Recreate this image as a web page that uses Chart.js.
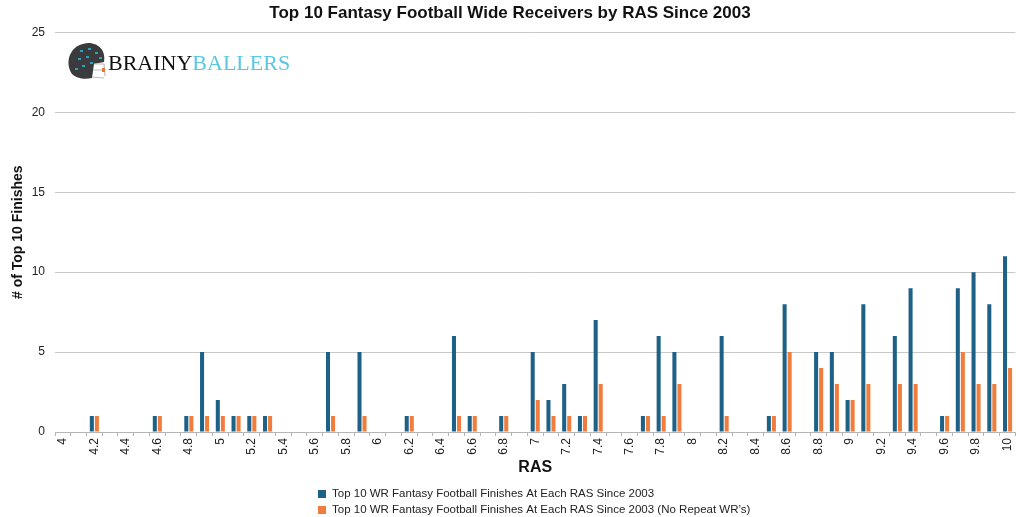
<!DOCTYPE html>
<html>
<head>
<meta charset="utf-8">
<script src="https://cdn.jsdelivr.net/npm/chart.js@4/dist/chart.umd.min.js"></script>
<style>
  html, body { margin: 0; padding: 0; background: #fff; }
  #wrap { width: 1024px; height: 517px; position: relative; }
</style>
</head>
<body>
<div id="wrap"><canvas id="chart" width="1024" height="517"></canvas></div>
<script>
// RAS categories (4.0 - 10.0, every 0.1)
const rasLabels = [
  '4', '4.1', '4.2', '4.3', '4.4', '4.5', '4.6', '4.7', '4.8', '4.9',
  '5', '5.1', '5.2', '5.3', '5.4', '5.5', '5.6', '5.7', '5.8', '5.9',
  '6', '6.1', '6.2', '6.3', '6.4', '6.5', '6.6', '6.7', '6.8', '6.9',
  '7', '7.1', '7.2', '7.3', '7.4', '7.5', '7.6', '7.7', '7.8', '7.9',
  '8', '8.1', '8.2', '8.3', '8.4', '8.5', '8.6', '8.7', '8.8', '8.9',
  '9', '9.1', '9.2', '9.3', '9.4', '9.5', '9.6', '9.7', '9.8', '9.9',
  '10'
];

// Top 10 WR finishes at each RAS
const allFinishes = [
  0, 0, 1, 0, 0, 0, 1, 0, 1, 5,
  2, 1, 1, 1, 0, 0, 0, 5, 0, 5,
  0, 0, 1, 0, 0, 6, 1, 0, 1, 0,
  5, 2, 3, 1, 7, 0, 0, 1, 6, 5,
  0, 0, 6, 0, 0, 1, 8, 0, 5, 5,
  2, 8, 0, 6, 9, 0, 1, 9, 10, 8,
  11
];

// Same, no repeat WRs
const uniqueFinishes = [
  0, 0, 1, 0, 0, 0, 1, 0, 1, 1,
  1, 1, 1, 1, 0, 0, 0, 1, 0, 1,
  0, 0, 1, 0, 0, 1, 1, 0, 1, 0,
  2, 1, 1, 1, 3, 0, 0, 1, 1, 3,
  0, 0, 1, 0, 0, 1, 5, 0, 4, 3,
  2, 3, 0, 3, 3, 0, 1, 5, 3, 3,
  4
];

const yTicks = [0, 5, 10, 15, 20, 25];

const seriesNames = [
  'Top 10 WR Fantasy Football Finishes At Each RAS Since 2003',
  'Top 10 WR Fantasy Football Finishes At Each RAS Since 2003 (No Repeat WR\u2019s)'
];

const BLUE = '#1d6186';
const ORANGE = '#f07d3d';
const FONT = '"Liberation Sans", Arial, Helvetica, sans-serif';

// logo + two-row legend drawn onto the canvas
const extras = {
  id: 'extras',
  afterDraw(chart) {
    const ctx = chart.ctx;
    ctx.save();

    // helmet
    ctx.fillStyle = '#3b3b3d';
    ctx.beginPath();
    ctx.moveTo(72, 74);
    ctx.bezierCurveTo(64, 62, 70, 44, 88, 43);
    ctx.bezierCurveTo(100, 43, 106, 52, 104, 62);
    ctx.lineTo(94, 64);
    ctx.lineTo(92, 78);
    ctx.bezierCurveTo(84, 80, 76, 78, 72, 74);
    ctx.fill();
    ctx.fillStyle = '#2aa3bd';
    [[80, 50], [88, 48], [95, 52], [78, 58], [86, 56], [99, 57], [82, 65], [90, 62], [75, 68]].forEach(p => {
      ctx.fillRect(p[0], p[1], 3, 2);
    });
    ctx.strokeStyle = '#bdbdbd';
    ctx.lineWidth = 1.2;
    ctx.beginPath();
    ctx.moveTo(94, 64); ctx.lineTo(104, 64); ctx.lineTo(105, 76);
    ctx.moveTo(93, 70); ctx.lineTo(105, 70);
    ctx.moveTo(92, 77); ctx.lineTo(104, 78);
    ctx.stroke();
    ctx.fillStyle = '#e8743a';
    ctx.fillRect(102, 68, 3, 4);

    // wordmark
    ctx.font = '22px "Liberation Serif", "DejaVu Serif", serif';
    ctx.textBaseline = 'alphabetic';
    ctx.textAlign = 'left';
    ctx.fillStyle = '#111';
    ctx.fillText('BRAINY', 108, 70);
    const w = ctx.measureText('BRAINY').width;
    ctx.fillStyle = '#5ac6e0';
    ctx.fillText('BALLERS', 108 + w, 70);

    // legend
    ctx.font = '11.5px ' + FONT;
    ctx.textBaseline = 'middle';
    const colors = [BLUE, ORANGE];
    seriesNames.forEach((name, i) => {
      const y = 494 + i * 16;
      ctx.fillStyle = colors[i];
      ctx.fillRect(318, y - 4, 8, 8);
      ctx.fillStyle = '#222';
      ctx.fillText(name, 332, y);
    });
    ctx.restore();
  }
};

new Chart(document.getElementById('chart'), {
  type: 'bar',
  data: {
    labels: rasLabels,
    datasets: [
      { label: seriesNames[0], data: allFinishes, backgroundColor: BLUE },
      { label: seriesNames[1], data: uniqueFinishes, backgroundColor: ORANGE }
    ]
  },
  options: {
    responsive: false,
    animation: false,
    layout: { padding: { left: 0, right: 4, top: 0, bottom: 40 } },
    datasets: { bar: { categoryPercentage: 0.64, barPercentage: 0.8 } },
    plugins: {
      legend: { display: false },
      tooltip: { enabled: false },
      title: {
        display: true,
        text: 'Top 10 Fantasy Football Wide Receivers by RAS Since 2003',
        color: '#111',
        font: { family: FONT, size: 17, weight: 'bold' },
        padding: { top: 3, bottom: 9 }
      }
    },
    scales: {
      x: {
        grid: { display: true, drawOnChartArea: false, drawTicks: true, tickLength: 4, color: '#b5b5b5', offset: true },
        border: { color: '#b5b5b5' },
        ticks: {
          autoSkip: false,
          maxRotation: 90,
          minRotation: 90,
          padding: 2,
          color: '#222',
          font: { family: FONT, size: 12 },
          callback: (v, i) => (i % 2 === 0 ? rasLabels[i] : '')
        },
        title: {
          display: true,
          text: 'RAS',
          color: '#111',
          font: { family: FONT, size: 16, weight: 'bold' },
          padding: { top: 3, bottom: 0 }
        },
        afterFit: s => { s.height = 45; }
      },
      y: {
        min: 0,
        max: 25,
        afterBuildTicks: s => { s.ticks = yTicks.map(v => ({ value: v })); },
        grid: { color: '#c8c8c8', drawTicks: false },
        border: { display: false },
        ticks: {
          color: '#222',
          padding: 10,
          font: { family: FONT, size: 12 }
        },
        title: {
          display: true,
          text: '# of Top 10 Finishes',
          color: '#111',
          font: { family: FONT, size: 14, weight: 'bold' },
          padding: { top: 10, bottom: 0 }
        },
        afterFit: s => { s.width = 55; }
      }
    }
  },
  plugins: [extras]
});
</script>
</body>
</html>
